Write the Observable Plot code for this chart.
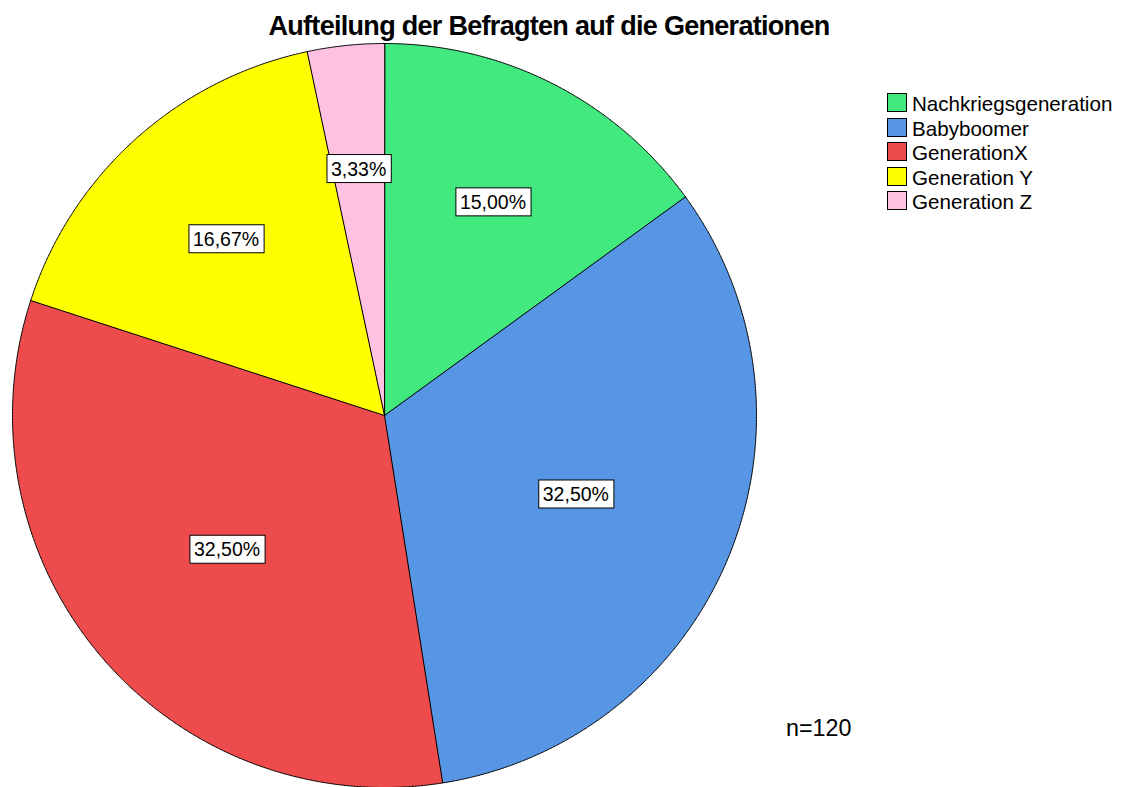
<!DOCTYPE html>
<html><head><meta charset="utf-8">
<script src="https://cdn.jsdelivr.net/npm/d3@7"></script>
<script src="https://cdn.jsdelivr.net/npm/@observablehq/plot@0.6"></script>
<style>
body{margin:0;background:#fff;font-family:"Liberation Sans",Arial,Helvetica,sans-serif;}
#wrap{position:relative;width:1127px;height:787px;overflow:hidden;}
#title{position:absolute;left:0;width:1098px;top:12.5px;text-align:center;font-weight:bold;font-size:27px;letter-spacing:-0.7px;line-height:1;color:#000;}
#chart{position:absolute;left:0;top:43px;}
.lg{position:absolute;left:887px;height:20px;line-height:20px;font-size:20.6px;color:#000;white-space:nowrap;}
.lg .sw{position:absolute;left:0;top:0;width:20px;height:19px;box-sizing:border-box;border:1px solid #000;}
.lg .tx{position:absolute;left:25px;top:1px;}
#note{position:absolute;left:786px;top:717px;font-size:23.3px;line-height:1;color:#000;}
</style></head><body>
<div id="wrap">
<div id="title"></div>
<div id="chart"></div>
<div id="legend"></div>
<div id="note"></div>
</div>
<script>
const titleText = "Aufteilung der Befragten auf die Generationen";
const categories = ["Nachkriegsgeneration", "Babyboomer", "GenerationX", "Generation Y", "Generation Z"];
const counts = [18, 39, 39, 20, 4];
const colors = ["#42E97F", "#5796E4", "#EE4C4C", "#FFFF00", "#FFC1E2"];

const total = d3.sum(counts);
document.getElementById("title").textContent = titleText;
document.getElementById("note").textContent = "n=" + total;

const arcs = d3.pie().sort(null).value(d => d)(counts);
const slicePts = [];
const labelData = [];
arcs.forEach((a, i) => {
  const cat = categories[i];
  slicePts.push({cat, x: 0, y: 0});
  const span = a.endAngle - a.startAngle;
  const n = Math.max(2, Math.ceil(span / 0.004));
  for (let k = 0; k <= n; k++) {
    const t = a.startAngle + span * k / n;
    slicePts.push({cat, x: Math.sin(t), y: Math.cos(t)});
  }
  const mid = (a.startAngle + a.endAngle) / 2;
  const r = 4 * Math.sin(span / 2) / (3 * span);
  const pct = (counts[i] / total * 100).toFixed(2).replace(".", ",") + "%";
  labelData.push({cat, x: r * Math.sin(mid), y: r * Math.cos(mid), label: pct});
});

const plot = Plot.plot({
  width: 1127, height: 744,
  marginLeft: 12, marginRight: 371, marginTop: 0, marginBottom: 0,
  style: {fontFamily: "'Liberation Sans', Arial, sans-serif", background: "transparent", overflow: "visible"},
  x: {domain: [-1, 1], axis: null},
  y: {domain: [-1, 1], axis: null},
  color: {domain: categories, range: colors},
  marks: [
    Plot.line(slicePts, {x: "x", y: "y", z: "cat", fill: "cat", stroke: "black", strokeWidth: 1, curve: "linear-closed"}),
    Plot.text(labelData, {x: "x", y: "y", text: "label", fontSize: 19.5, fill: "black"})
  ]
});
document.getElementById("chart").appendChild(plot);

// white boxes with black border behind percentage labels
const ns = "http://www.w3.org/2000/svg";
plot.querySelectorAll('g[aria-label="text"] text').forEach(t => {
  const b = t.getBBox();
  const rect = document.createElementNS(ns, "rect");
  rect.setAttribute("x", b.x - 4);
  rect.setAttribute("y", b.y - 3);
  rect.setAttribute("width", b.width + 9);
  rect.setAttribute("height", b.height + 6);
  rect.setAttribute("fill", "white");
  rect.setAttribute("stroke", "black");
  rect.setAttribute("stroke-width", "1");
  const tr = t.getAttribute("transform");
  if (tr) rect.setAttribute("transform", tr);
  t.parentNode.insertBefore(rect, t);
});

const legend = document.getElementById("legend");
categories.forEach((c, i) => {
  const row = document.createElement("div");
  row.className = "lg";
  row.style.top = (93 + i * 24.5) + "px";
  const sw = document.createElement("span");
  sw.className = "sw";
  sw.style.background = colors[i];
  const tx = document.createElement("span");
  tx.className = "tx";
  tx.textContent = c;
  row.appendChild(sw); row.appendChild(tx);
  legend.appendChild(row);
});
</script>
</body></html>
